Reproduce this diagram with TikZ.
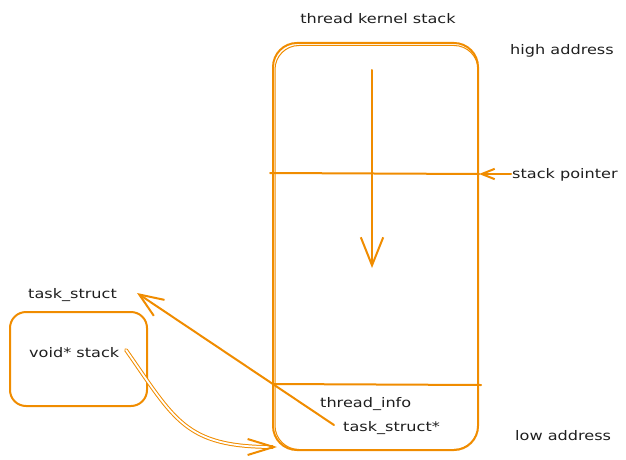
\documentclass[tikz,border=0pt]{standalone}
\usepackage{fontspec}
\setmainfont{DejaVu Sans}[FakeStretch=1.22]
\usetikzlibrary{arrows.meta,calc}
\definecolor{exo}{HTML}{F08C00}
\definecolor{ink}{HTML}{1E1E1E}
\begin{document}
\begin{tikzpicture}[x=1pt,y=-1pt,
  lbl/.style={font=\fontsize{13.2}{15}\selectfont, text=ink, inner sep=0pt},
  ln/.style={draw=exo, line width=2pt, line cap=round},
  box/.style={draw=exo, line width=2pt, rounded corners=24pt, inner sep=0pt},
  arr/.style={ln, -{Straight Barb[length=#1,width=#1*0.8,line width=2pt]}},
  arr/.default=20pt]
\useasboundingbox (0,0) rectangle (626,460);
% big stack box
\node[box, minimum width=205pt, minimum height=407pt] (stk) at (375.5,246.5) {};
\node[box, minimum width=203pt, minimum height=404pt, line width=1pt] (stk2) at (376.5,247.5) {};
% small box
\node[box, rounded corners=16pt, minimum width=137pt, minimum height=94pt] (small) at (78.5,359) {};
% labels
\node[lbl] (title) at (378,19) {thread kernel stack};
\node[lbl, anchor=west] (high) at (510,51) {high address};
\node[lbl, anchor=west] (sp) at (512,175) {stack pointer};
\node[lbl, anchor=west] (low) at (515,436) {low address};
\node[lbl, anchor=west] (ti) at (320,404) {thread\_info};
\node[lbl, anchor=west] (tsp) at (343,428) {task\_struct*};
\node[lbl, anchor=west] (ts) at (28,295) {task\_struct};
\node[lbl, anchor=west] (vs) at (29,353) {void* stack};
% horizontal lines
\coordinate (spL) at (270,173);
\coordinate (spR) at (479,174);
\draw[ln] (spL) -- (spR);
\coordinate (tiL) at (273,384);
\coordinate (tiR) at (481,385);
\draw[ln] (tiL) -- (tiR);
% growth arrow
\coordinate (gTop) at (372,70);
\coordinate (gBot) at (372,268);
\draw[arr=28pt] (gTop) -- (gBot);
% stack pointer arrow
\draw[arr=13pt] (sp.west) ++(-1,-1) coordinate (spA) -- (spR);
% task_struct* -> task_struct
\coordinate (tsStart) at (334,425);
\coordinate (tsTip) at (137,293);
\draw[arr=24pt] (tsStart) -- (tsTip);
% void* stack -> stack box bottom
\coordinate (vsStart) at (126,350);
\coordinate (vsEnd) at (277,447);
\draw[ln, line width=1pt, double=white, double distance=1.8pt, -{Straight Barb[length=26pt,width=16pt,line width=2pt]}]
  (vsStart) .. controls (175,420) and (185,447) .. (vsEnd);
\end{tikzpicture}
\end{document}
